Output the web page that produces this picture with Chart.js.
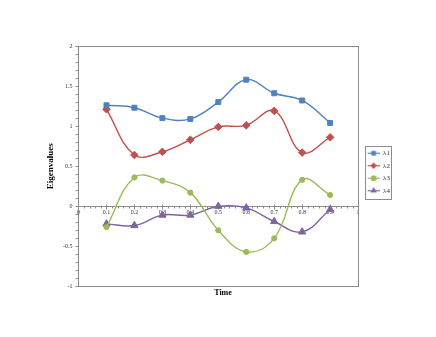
<!DOCTYPE html>
<html>
<head>
<meta charset="utf-8">
<script src="https://cdn.jsdelivr.net/npm/chart.js@4"></script>
<style>
  html, body { margin: 0; padding: 0; background: #fff; }
  #wrap { width: 436px; height: 337px; }
</style>
</head>
<body>
<div id="wrap"><canvas id="eigenChart" width="436" height="337"></canvas></div>
<script>
// Data
const timePoints = [0.1, 0.2, 0.3, 0.4, 0.5, 0.6, 0.7, 0.8, 0.9];
const lambda1 = [1.26, 1.23, 1.10, 1.09, 1.30, 1.58, 1.41, 1.32, 1.04];
const lambda2 = [1.21, 0.64, 0.68, 0.83, 0.99, 1.01, 1.19, 0.67, 0.86];
const lambda3 = [-0.26, 0.36, 0.32, 0.17, -0.30, -0.57, -0.40, 0.33, 0.14];
const lambda4 = [-0.22, -0.24, -0.11, -0.11, 0.00, -0.02, -0.19, -0.32, -0.04];
const seriesLabels = ['λ1', 'λ2', 'λ3', 'λ4'];
const seriesColors = ['#4F81BD', '#C0504D', '#9BBB59', '#8064A2'];
const seriesMarkers = ['rect', 'rectRot', 'circle', 'triangle'];
const markerSizes = [3.5, 3.8, 2.6, 4.2];

const serif = '"Liberation Serif", "Times New Roman", serif';
const axisGray = '#8c8c8c';
const iconGap = 4; // empty space left of the legend icon

// small "line + marker" image for the legend
function legendIcon(color, marker) {
    const c = document.createElement('canvas');
    c.width = 12 + iconGap;
    c.height = 7;
    const g = c.getContext('2d');
    g.strokeStyle = color;
    g.fillStyle = color;
    g.lineWidth = 1.2;
    g.beginPath();
    g.moveTo(iconGap, 3.5);
    g.lineTo(iconGap + 12, 3.5);
    g.stroke();
    Chart.helpers.drawPoint(g, { pointStyle: marker, radius: 2.4, borderWidth: 1 }, iconGap + 6, 3.5);
    g.fill();
    return c;
}

function makeSeries(values) {
    return timePoints.map((t, i) => ({ x: t, y: values[i] }));
}

const allSeries = [lambda1, lambda2, lambda3, lambda4];

// frame, minor ticks and legend border like Excel
const excelFrame = {
    id: 'excelFrame',
    beforeDatasetsDraw(chart) {
        const { ctx, chartArea } = chart;
        const xs = chart.scales.x;
        const ys = chart.scales.y;
        ctx.save();
        ctx.strokeStyle = axisGray;
        ctx.lineWidth = 1;
        ctx.strokeRect(Math.round(chartArea.left) + 0.5, Math.round(chartArea.top) + 0.5,
            Math.round(chartArea.width), Math.round(chartArea.height));

        // y minor ticks every 0.1
        ctx.beginPath();
        for (let v = ys.min; v <= ys.max + 1e-9; v += 0.1) {
            const py = Math.round(ys.getPixelForValue(v)) + 0.5;
            ctx.moveTo(chartArea.left - 3, py);
            ctx.lineTo(chartArea.left, py);
        }
        // x minor ticks every 0.02 on the zero line
        const y0 = Math.round(ys.getPixelForValue(0)) + 0.5;
        for (let i = 0; i <= 50; i++) {
            const v = i * 0.02;
            const px = Math.round(xs.getPixelForValue(v)) + 0.5;
            const major = i % 5 === 0;
            ctx.moveTo(px, y0 - (major ? 2 : 0));
            ctx.lineTo(px, y0 + (major ? 3 : 2));
        }
        ctx.stroke();
        ctx.restore();
    },
    afterDraw(chart) {
        const lg = chart.legend;
        if (!lg || !lg.legendHitBoxes.length) return;
        const boxes = lg.legendHitBoxes;
        const left = Math.min(...boxes.map(b => b.left)) + iconGap;
        const right = Math.max(...boxes.map(b => b.left + b.width));
        const top = Math.min(...boxes.map(b => b.top));
        const bottom = Math.max(...boxes.map(b => b.top + b.height));
        const ctx = chart.ctx;
        ctx.save();
        ctx.strokeStyle = axisGray;
        ctx.lineWidth = 1;
        ctx.strokeRect(Math.round(left - 3) + 0.5, Math.round(top - 4) + 0.5,
            Math.round(right - left + 4), Math.round(bottom - top + 8));
        ctx.restore();
    }
};

let eigenChart;

function initChart() {
    const ctx = document.getElementById('eigenChart').getContext('2d');

    eigenChart = new Chart(ctx, {
        type: 'line',
        data: {
            datasets: allSeries.map((vals, i) => ({
                label: seriesLabels[i],
                data: makeSeries(vals),
                borderColor: seriesColors[i],
                backgroundColor: seriesColors[i],
                borderWidth: 1.4,
                pointStyle: seriesMarkers[i],
                pointRadius: markerSizes[i],
                pointBorderWidth: 1,
                tension: 0.4,
                fill: false,
                legendIcon: legendIcon(seriesColors[i], seriesMarkers[i])
            }))
        },
        options: {
            responsive: false,
            animation: false,
            layout: {
                padding: { left: 46, right: 36, top: 46, bottom: 39 }
            },
            scales: {
                x: {
                    type: 'linear',
                    position: { y: 0 },
                    min: 0,
                    max: 1,
                    grid: { display: false, drawTicks: false },
                    border: { display: true, color: axisGray, width: 1 },
                    ticks: {
                        stepSize: 0.1,
                        padding: 3,
                        color: '#333',
                        font: { family: serif, size: 6 },
                        maxRotation: 0,
                        callback: v => Number(v.toFixed(1)).toString()
                    }
                },
                y: {
                    min: -1,
                    max: 2,
                    grid: { display: false, drawTicks: false },
                    border: { display: true, color: axisGray, width: 1 },
                    ticks: {
                        stepSize: 0.5,
                        padding: 6,
                        color: '#333',
                        font: { family: serif, size: 6 },
                        callback: v => Number(v.toFixed(1)).toString()
                    },
                    title: {
                        display: true,
                        text: 'Eigenvalues',
                        color: '#000',
                        padding: { top: 0, bottom: 2 },
                        font: { family: serif, size: 9, weight: 'bold', lineHeight: 1 }
                    }
                }
            },
            plugins: {
                legend: {
                    position: 'right',
                    labels: {
                        usePointStyle: true,
                        pointStyleWidth: 12 + iconGap,
                        padding: 5.5,
                        color: '#333',
                        font: { family: serif, size: 7 },
                        generateLabels(chart) {
                            return chart.data.datasets.map((ds, i) => ({
                                text: ds.label,
                                pointStyle: ds.legendIcon,
                                fillStyle: ds.backgroundColor,
                                strokeStyle: ds.borderColor,
                                fontColor: '#333',
                                lineWidth: 0,
                                hidden: false,
                                datasetIndex: i
                            }));
                        }
                    }
                },
                title: {
                    display: true,
                    position: 'bottom',
                    text: 'Time',
                    color: '#000',
                    padding: { top: 2, bottom: 0 },
                    font: { family: serif, size: 8, weight: 'bold' }
                },
                tooltip: { enabled: false }
            }
        },
        plugins: [excelFrame]
    });
}

initChart();
</script>
</body>
</html>
